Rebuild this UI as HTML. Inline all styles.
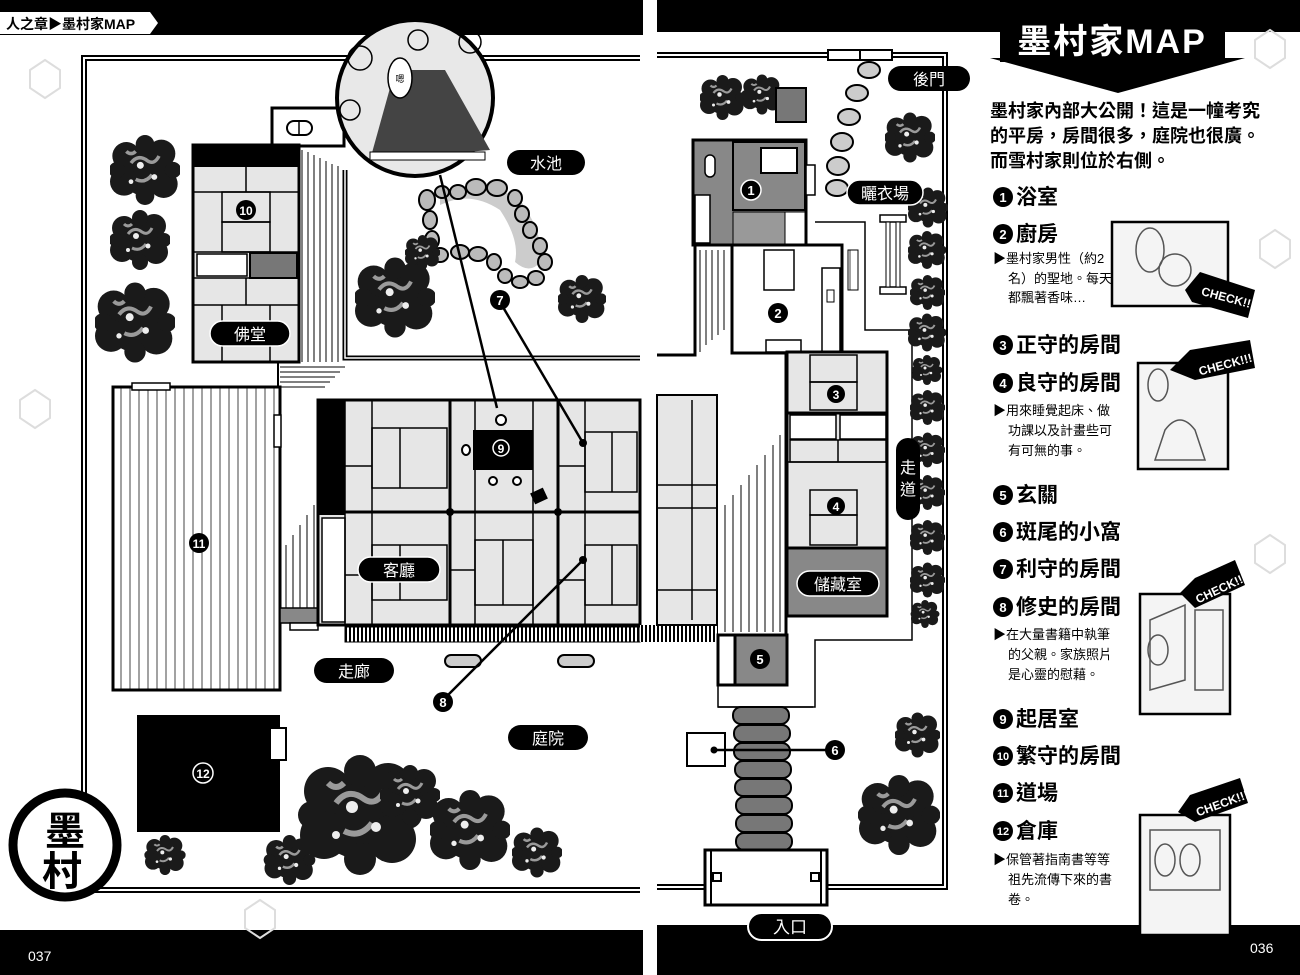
<!DOCTYPE html>
<html><head><meta charset="utf-8"><style>
html,body{margin:0;padding:0;background:#fff}
svg{display:block}
text{font-family:"Liberation Sans","Noto Sans CJK TC",sans-serif}
</style></head><body>
<svg width="1300" height="975" viewBox="0 0 1300 975" xmlns="http://www.w3.org/2000/svg">
<defs>
<symbol id="bush" viewBox="-30 -30 60 60">
<g fill="#1a1a1a">
<circle cx="0" cy="0" r="22"/><circle cx="-16" cy="-12" r="12"/><circle cx="14" cy="-14" r="12"/><circle cx="-18" cy="10" r="12"/><circle cx="16" cy="12" r="12"/><circle cx="0" cy="-22" r="8"/><circle cx="0" cy="22" r="8"/><circle cx="-24" cy="0" r="7"/><circle cx="24" cy="0" r="7"/>
</g>
<g fill="none" stroke="#9a9a9a" stroke-width="3">
<path d="M-12 -6 q6 -8 14 -2 q6 4 10 -4"/><path d="M-8 8 q8 4 14 -4"/><path d="M-16 -16 q4 4 8 0"/>
</g>
<g fill="#eee"><circle cx="-4" cy="-4" r="3"/><circle cx="8" cy="6" r="2.5"/><circle cx="-12" cy="10" r="2"/></g>
</symbol>
<pattern id="tat" width="30" height="30" patternUnits="userSpaceOnUse"><rect width="30" height="30" fill="#e6e6e6"/></pattern>
<pattern id="vl" width="9" height="10" patternUnits="userSpaceOnUse"><rect width="9" height="10" fill="#fff"/><line x1="4" y1="0" x2="4" y2="10" stroke="#444" stroke-width="1"/></pattern>
<pattern id="hatch" width="4" height="10" patternUnits="userSpaceOnUse"><rect width="4" height="10" fill="#fff"/><line x1="2" y1="0" x2="2" y2="10" stroke="#000" stroke-width="2"/></pattern>
</defs>

<!-- top & bottom bands -->
<rect x="0" y="0" width="643" height="35" fill="#000"/>
<rect x="657" y="0" width="643" height="32" fill="#000"/>
<rect x="0" y="930" width="643" height="45" fill="#000"/>
<rect x="657" y="925" width="643" height="50" fill="#000"/>
<path d="M0 12 H150 L158 23 L150 34 H0 Z" fill="#fff"/>
<text x="6" y="29" font-size="14" font-weight="bold" fill="#000">人之章▶墨村家MAP</text>
<text x="28" y="961" font-size="14" fill="#fff" font-family="Liberation Serif">037</text>
<text x="1250" y="953" font-size="14" fill="#fff" font-family="Liberation Serif">036</text>

<!-- faint bg decoration -->
<g fill="none" stroke="#ddd" stroke-width="2">
<polygon points="30,70 45,60 60,70 60,88 45,98 30,88"/>
<polygon points="20,400 35,390 50,400 50,418 35,428 20,418"/>
<polygon points="245,910 260,900 275,910 275,928 260,938 245,928"/>
<polygon points="1255,40 1270,30 1285,40 1285,58 1270,68 1255,58"/>
<polygon points="1255,545 1270,535 1285,545 1285,563 1270,573 1255,563"/>
<polygon points="1260,240 1275,230 1290,240 1290,258 1275,268 1260,258"/>
</g>

<!-- ================= LEFT PAGE ================= -->
<path d="M640 58 H84 V890 H640" fill="none" stroke="#000" stroke-width="6"/>
<path d="M640 58 H84 V890 H640" fill="none" stroke="#fff" stroke-width="2"/>
<!-- garden rectangle -->
<path d="M345 170 V358 H640" fill="none" stroke="#000" stroke-width="5"/>
<path d="M345 170 V358 H640" fill="none" stroke="#fff" stroke-width="1.5"/>

<!-- corridor above butsudo -->
<rect x="272" y="108" width="72" height="38" fill="#fff" stroke="#000" stroke-width="3"/>
<rect x="287" y="121" width="25" height="14" rx="7" fill="#fff" stroke="#000" stroke-width="2"/>
<line x1="299" y1="121" x2="299" y2="135" stroke="#000" stroke-width="1.5"/>
<!-- engawa lines -->
<g stroke="#000" stroke-width="1">
<line x1="302" y1="150" x2="302" y2="362"/><line x1="308" y1="152" x2="308" y2="362"/><line x1="314" y1="155" x2="314" y2="362"/><line x1="320" y1="158" x2="320" y2="362"/><line x1="326" y1="161" x2="326" y2="362"/><line x1="332" y1="164" x2="332" y2="362"/><line x1="338" y1="166" x2="338" y2="362"/>
<line x1="280" y1="367" x2="345" y2="367"/><line x1="280" y1="372" x2="340" y2="372"/><line x1="280" y1="377" x2="335" y2="377"/><line x1="280" y1="382" x2="330" y2="382"/><line x1="280" y1="387" x2="325" y2="387"/>
</g>
<!-- butsudo building -->
<rect x="193" y="145" width="106" height="217" fill="#e6e6e6" stroke="#000" stroke-width="3"/>
<rect x="193" y="145" width="106" height="22" fill="#000"/>
<g stroke="#000" stroke-width="1.5" fill="none">
<line x1="193" y1="192" x2="299" y2="192"/><line x1="246" y1="167" x2="246" y2="192"/>
<rect x="222" y="192" width="48" height="30"/><rect x="222" y="222" width="48" height="30"/>
<line x1="193" y1="252" x2="299" y2="252"/><line x1="193" y1="278" x2="299" y2="278"/>
<line x1="193" y1="305" x2="299" y2="305"/><line x1="246" y1="278" x2="246" y2="305"/>
<line x1="222" y1="305" x2="222" y2="362"/><line x1="270" y1="305" x2="270" y2="362"/>
</g>
<rect x="197" y="254" width="50" height="22" fill="#fff" stroke="#000" stroke-width="1.5"/>
<rect x="250" y="253" width="47" height="25" fill="#777" stroke="#000" stroke-width="2"/>
<circle cx="246" cy="210" r="10" fill="#000"/><text x="246" y="215" font-size="12" fill="#fff" text-anchor="middle" font-weight="bold">10</text>
<rect x="210" y="321" width="80" height="25" rx="12.5" fill="#000" stroke="#fff" stroke-width="1.5"/>
<text x="250" y="340" font-size="16" fill="#fff" text-anchor="middle">佛堂</text>
<line x1="278" y1="362" x2="278" y2="388" stroke="#000" stroke-width="2"/>

<!-- dojo -->
<rect x="113" y="387" width="167" height="303" fill="url(#vl)" stroke="#000" stroke-width="3"/>
<rect x="132" y="383" width="38" height="7" fill="#fff" stroke="#000" stroke-width="1.5"/>
<rect x="274" y="415" width="7" height="32" fill="#fff" stroke="#000" stroke-width="1.5"/>
<circle cx="199" cy="543" r="10" fill="#000"/><text x="199" y="548" font-size="12" fill="#fff" text-anchor="middle" font-weight="bold">11</text>
<!-- stairs -->
<g stroke="#000" stroke-width="1"><line x1="286" y1="545" x2="286" y2="608"/><line x1="293" y1="535" x2="293" y2="608"/><line x1="300" y1="525" x2="300" y2="608"/><line x1="307" y1="515" x2="307" y2="608"/><line x1="314" y1="505" x2="314" y2="608"/></g>
<rect x="280" y="608" width="40" height="15" fill="#888" stroke="#000" stroke-width="1.5"/>
<rect x="290" y="623" width="28" height="7" fill="#fff" stroke="#000" stroke-width="1.5"/>

<!-- main house -->
<rect x="318" y="400" width="322" height="225" fill="#e6e6e6" stroke="#000" stroke-width="3"/>
<rect x="318" y="400" width="27" height="115" fill="#000"/>
<rect x="322" y="518" width="23" height="104" fill="#fff" stroke="#000" stroke-width="1.5"/>
<g stroke="#000" stroke-width="1.5" fill="none">
<line x1="345" y1="400" x2="345" y2="625"/>
<line x1="372" y1="400" x2="372" y2="625"/>
<rect x="372" y="428" width="75" height="60"/><line x1="400" y1="428" x2="400" y2="488"/>
<line x1="345" y1="466" x2="372" y2="466"/>
<rect x="372" y="545" width="75" height="55"/><line x1="400" y1="545" x2="400" y2="600"/>
<line x1="345" y1="575" x2="372" y2="575"/>
<line x1="475" y1="400" x2="475" y2="625"/><line x1="533" y1="400" x2="533" y2="625"/>
<rect x="475" y="540" width="58" height="65"/><line x1="503" y1="540" x2="503" y2="605"/>
<line x1="450" y1="570" x2="475" y2="570"/>
<line x1="585" y1="400" x2="585" y2="625"/>
<rect x="585" y="432" width="52" height="60"/><line x1="612" y1="432" x2="612" y2="492"/>
<rect x="585" y="545" width="52" height="60"/><line x1="612" y1="545" x2="612" y2="605"/>
<line x1="558" y1="466" x2="585" y2="466"/><line x1="558" y1="580" x2="585" y2="580"/>
</g>
<g stroke="#000" stroke-width="3"><line x1="318" y1="512" x2="640" y2="512"/><line x1="450" y1="400" x2="450" y2="625"/><line x1="558" y1="400" x2="558" y2="625"/></g>
<circle cx="450" cy="512" r="4" fill="#000"/><circle cx="558" cy="512" r="4" fill="#000"/>
<rect x="473" y="430" width="60" height="40" fill="#000"/>
<circle cx="501" cy="448" r="8" fill="#000" stroke="#fff" stroke-width="1.5"/><text x="501" y="453" font-size="12" fill="#fff" text-anchor="middle" font-weight="bold">9</text>
<circle cx="501" cy="420" r="5" fill="#fff" stroke="#000" stroke-width="2"/>
<ellipse cx="466" cy="450" rx="4" ry="5" fill="#fff" stroke="#000" stroke-width="2"/>
<circle cx="493" cy="481" r="4" fill="#fff" stroke="#000" stroke-width="2"/><circle cx="517" cy="481" r="4" fill="#fff" stroke="#000" stroke-width="2"/>
<rect x="532" y="490" width="14" height="12" fill="#000" transform="rotate(-25 539 496)"/>
<rect x="358" y="557" width="82" height="25" rx="12.5" fill="#000" stroke="#fff" stroke-width="1.5"/>
<text x="399" y="576" font-size="16" fill="#fff" text-anchor="middle">客廳</text>
<rect x="345" y="627" width="295" height="15" fill="url(#hatch)" stroke="#000" stroke-width="1"/>
<rect x="445" y="655" width="36" height="12" rx="6" fill="#ccc" stroke="#000" stroke-width="2"/>
<rect x="558" y="655" width="36" height="12" rx="6" fill="#ccc" stroke="#000" stroke-width="2"/>
<rect x="314" y="658" width="80" height="25" rx="12.5" fill="#000"/>
<text x="354" y="677" font-size="16" fill="#fff" text-anchor="middle">走廊</text>
<rect x="508" y="725" width="80" height="25" rx="12.5" fill="#000"/>
<text x="548" y="744" font-size="16" fill="#fff" text-anchor="middle">庭院</text>

<!-- pond -->
<path d="M440 205 Q470 190 500 210 Q520 240 515 262 Q530 275 540 262 Q545 235 520 200 Q480 175 440 195 Z" fill="#ccc"/>
<g fill="#bbb" stroke="#000" stroke-width="2">
<ellipse cx="427" cy="200" rx="8" ry="10"/><ellipse cx="430" cy="220" rx="7" ry="9"/><ellipse cx="432" cy="240" rx="7" ry="9"/><ellipse cx="440" cy="255" rx="8" ry="7"/>
<ellipse cx="460" cy="252" rx="9" ry="7"/><ellipse cx="478" cy="254" rx="9" ry="7"/><ellipse cx="494" cy="262" rx="7" ry="8"/><ellipse cx="505" cy="276" rx="7" ry="7"/><ellipse cx="520" cy="282" rx="8" ry="6"/><ellipse cx="536" cy="278" rx="8" ry="7"/><ellipse cx="545" cy="262" rx="7" ry="8"/><ellipse cx="540" cy="246" rx="7" ry="8"/><ellipse cx="530" cy="230" rx="7" ry="8"/><ellipse cx="522" cy="214" rx="7" ry="8"/><ellipse cx="515" cy="198" rx="7" ry="8"/><ellipse cx="497" cy="188" rx="10" ry="8"/><ellipse cx="476" cy="187" rx="10" ry="8"/><ellipse cx="458" cy="192" rx="8" ry="7"/><ellipse cx="442" cy="192" rx="7" ry="6"/>
</g>
<rect x="507" y="150" width="78" height="25" rx="12.5" fill="#000"/>
<text x="546" y="169" font-size="16" fill="#fff" text-anchor="middle">水池</text>

<!-- bushes left -->
<use href="#bush" x="110" y="135" width="70" height="70"/>
<use href="#bush" x="110" y="210" width="60" height="60"/>
<use href="#bush" x="95" y="280" width="80" height="85"/>
<use href="#bush" x="355" y="255" width="80" height="85"/>
<use href="#bush" x="558" y="275" width="48" height="48"/>
<use href="#bush" x="405" y="235" width="35" height="35"/>
<use href="#bush" x="140" y="835" width="50" height="40"/>
<use href="#bush" x="295" y="755" width="130" height="120"/>
<use href="#bush" x="380" y="765" width="60" height="60"/>
<use href="#bush" x="430" y="780" width="80" height="100"/>
<use href="#bush" x="262" y="835" width="55" height="50"/>
<use href="#bush" x="512" y="825" width="50" height="55"/>

<!-- storehouse 12 -->
<rect x="137" y="715" width="143" height="117" fill="#000"/>
<rect x="270" y="728" width="16" height="32" fill="#fff" stroke="#000" stroke-width="2"/>
<circle cx="203" cy="773" r="10" fill="#000" stroke="#fff" stroke-width="1.5"/><text x="203" y="778" font-size="12" fill="#fff" text-anchor="middle" font-weight="bold">12</text>

<!-- leader lines -->
<g stroke="#000" stroke-width="2.5">
<line x1="440" y1="175" x2="497" y2="408"/>
<line x1="500" y1="302" x2="583" y2="443"/>
<line x1="443" y1="700" x2="583" y2="560"/>
</g>
<circle cx="583" cy="443" r="4" fill="#000"/><circle cx="583" cy="560" r="4" fill="#000"/>
<circle cx="500" cy="300" r="10" fill="#000"/><text x="500" y="305" font-size="13" fill="#fff" text-anchor="middle" font-weight="bold">7</text>
<circle cx="443" cy="702" r="10" fill="#000"/><text x="443" y="707" font-size="13" fill="#fff" text-anchor="middle" font-weight="bold">8</text>

<!-- inset circle -->
<circle cx="415" cy="98" r="78" fill="#e8e8e8" stroke="#000" stroke-width="4"/>
<path d="M370 160 L395 70 L445 70 L490 150 Z" fill="#444"/>
<rect x="370" y="152" width="115" height="8" fill="#fff" stroke="#000"/>
<ellipse cx="400" cy="78" rx="12" ry="20" fill="#fff" stroke="#000" stroke-width="1.5"/>
<text x="400" y="82" font-size="9" text-anchor="middle">嗯</text>
<g fill="none" stroke="#000" stroke-width="1.5"><circle cx="360" cy="58" r="12"/><circle cx="418" cy="40" r="10"/><circle cx="470" cy="42" r="11"/><circle cx="350" cy="110" r="10"/></g>

<!-- 墨村 stamp -->
<circle cx="65" cy="845" r="52" fill="#fff" stroke="#000" stroke-width="9"/>
<text x="65" y="845" font-size="40" font-weight="bold" text-anchor="middle" font-family="Noto Serif CJK SC,serif">墨</text>
<text x="62" y="885" font-size="40" font-weight="bold" text-anchor="middle" font-family="Noto Serif CJK SC,serif">村</text>

<!-- ================= RIGHT PAGE ================= -->
<path d="M657 55 H945 V887 H657" fill="none" stroke="#000" stroke-width="6"/>
<path d="M657 55 H945 V887 H657" fill="none" stroke="#fff" stroke-width="2"/>
<rect x="828" y="50" width="32" height="10" fill="#fff" stroke="#000" stroke-width="2"/>
<rect x="860" y="50" width="32" height="10" fill="#fff" stroke="#000" stroke-width="2"/>
<rect x="888" y="66" width="82" height="25" rx="12.5" fill="#000"/>
<text x="929" y="85" font-size="16" fill="#fff" text-anchor="middle">後門</text>
<g fill="#ccc" stroke="#000" stroke-width="2">
<ellipse cx="869" cy="70" rx="11" ry="8"/><ellipse cx="857" cy="93" rx="11" ry="8"/><ellipse cx="849" cy="117" rx="11" ry="8"/><ellipse cx="842" cy="142" rx="11" ry="9"/><ellipse cx="838" cy="166" rx="11" ry="9"/><ellipse cx="837" cy="188" rx="11" ry="8"/>
</g>
<use href="#bush" x="700" y="75" width="45" height="45"/>
<use href="#bush" x="742" y="72" width="40" height="45"/>
<rect x="776" y="88" width="30" height="34" fill="#777" stroke="#000" stroke-width="2"/>
<use href="#bush" x="885" y="110" width="50" height="55"/>

<!-- building 1 -->
<rect x="693" y="140" width="113" height="105" fill="#888" stroke="#000" stroke-width="3"/>
<rect x="733" y="142" width="72" height="68" fill="#888" stroke="#000" stroke-width="2"/>
<rect x="761" y="148" width="36" height="25" fill="#fff" stroke="#000" stroke-width="2"/>
<circle cx="751" cy="190" r="10" fill="#000" stroke="#fff" stroke-width="1.5"/><text x="751" y="195" font-size="13" fill="#fff" text-anchor="middle" font-weight="bold">1</text>
<rect x="705" y="155" width="10" height="22" rx="5" fill="#fff" stroke="#000" stroke-width="1.5"/>
<rect x="695" y="195" width="15" height="48" fill="#fff" stroke="#000" stroke-width="1.5"/>
<rect x="733" y="212" width="52" height="32" fill="#999" stroke="#000" stroke-width="1"/>
<rect x="785" y="212" width="20" height="32" fill="#fff" stroke="#000" stroke-width="1"/>
<rect x="806" y="165" width="9" height="30" fill="#fff" stroke="#000" stroke-width="1.5"/>
<!-- kitchen -->
<rect x="732" y="245" width="110" height="108" fill="#fff" stroke="#000" stroke-width="3"/>
<rect x="764" y="250" width="30" height="40" fill="#fff" stroke="#000" stroke-width="1.5"/>
<rect x="766" y="340" width="35" height="12" fill="#fff" stroke="#000" stroke-width="1.5"/>
<rect x="822" y="268" width="18" height="84" fill="#fff" stroke="#000" stroke-width="1.5"/>
<rect x="827" y="290" width="7" height="12" fill="#fff" stroke="#000"/>
<circle cx="778" cy="313" r="10" fill="#000"/><text x="778" y="318" font-size="13" fill="#fff" text-anchor="middle" font-weight="bold">2</text>
<rect x="848" y="250" width="10" height="40" fill="url(#vl)" stroke="#000" stroke-width="1"/>
<!-- engawa stripes -->
<g stroke="#000" stroke-width="1"><line x1="700" y1="250" x2="700" y2="352"/><line x1="706" y1="250" x2="706" y2="345"/><line x1="712" y1="250" x2="712" y2="340"/><line x1="718" y1="250" x2="718" y2="335"/><line x1="724" y1="250" x2="724" y2="330"/></g>
<path d="M657 355 H695 V245" fill="none" stroke="#000" stroke-width="3"/>
<!-- inner walkway line -->
<path d="M815 222 H865 V330 H912 V640 H815 V707 H718" fill="none" stroke="#000" stroke-width="1.5"/>
<!-- drying rack -->
<rect x="880" y="215" width="26" height="7" fill="#fff" stroke="#000" stroke-width="1.5"/>
<rect x="880" y="287" width="26" height="7" fill="#fff" stroke="#000" stroke-width="1.5"/>
<rect x="886" y="222" width="4" height="65" fill="#fff" stroke="#000"/><rect x="896" y="222" width="4" height="65" fill="#fff" stroke="#000"/>
<!-- bushes column -->
<use href="#bush" x="908" y="185" width="40" height="45"/>
<use href="#bush" x="908" y="230" width="38" height="40"/>
<use href="#bush" x="910" y="275" width="35" height="35"/>
<use href="#bush" x="908" y="310" width="38" height="45"/>
<use href="#bush" x="912" y="355" width="30" height="30"/>
<use href="#bush" x="910" y="390" width="35" height="35"/>
<use href="#bush" x="910" y="430" width="35" height="40"/>
<use href="#bush" x="910" y="475" width="35" height="35"/>
<use href="#bush" x="910" y="520" width="35" height="35"/>
<use href="#bush" x="910" y="560" width="35" height="40"/>
<use href="#bush" x="910" y="600" width="30" height="28"/>
<rect x="847" y="180" width="76" height="25" rx="12.5" fill="#000" stroke="#fff" stroke-width="1.5"/>
<text x="885" y="199" font-size="16" fill="#fff" text-anchor="middle">曬衣場</text>
<rect x="896" y="438" width="24" height="82" rx="12" fill="#000"/>
<text x="908" y="473" font-size="16" fill="#fff" text-anchor="middle">走</text>
<text x="908" y="495" font-size="16" fill="#fff" text-anchor="middle">道</text>
<!-- rooms 3/4 -->
<rect x="787" y="352" width="100" height="196" fill="#e6e6e6" stroke="#000" stroke-width="3"/>
<g stroke="#000" stroke-width="1.5" fill="none">
<rect x="810" y="355" width="47" height="27"/><rect x="810" y="382" width="47" height="28"/>
<rect x="790" y="440" width="96" height="22"/><line x1="838" y1="440" x2="838" y2="462"/>
<rect x="810" y="490" width="47" height="25"/><rect x="810" y="515" width="47" height="30"/><line x1="787" y1="462" x2="887" y2="462"/>
</g>
<line x1="787" y1="413" x2="887" y2="413" stroke="#000" stroke-width="3"/>
<rect x="790" y="415" width="46" height="24" fill="#fff" stroke="#000" stroke-width="1.5"/><rect x="840" y="415" width="46" height="24" fill="#fff" stroke="#000" stroke-width="1.5"/>
<circle cx="836" cy="394" r="9" fill="#000"/><text x="836" y="399" font-size="12" fill="#fff" text-anchor="middle" font-weight="bold">3</text>
<circle cx="836" cy="506" r="9" fill="#000"/><text x="836" y="511" font-size="12" fill="#fff" text-anchor="middle" font-weight="bold">4</text>
<rect x="787" y="548" width="100" height="68" fill="#888" stroke="#000" stroke-width="3"/>
<rect x="797" y="571" width="82" height="25" rx="12.5" fill="#000" stroke="#fff" stroke-width="1.5"/>
<text x="838" y="590" font-size="16" fill="#fff" text-anchor="middle">儲藏室</text>
<!-- stripes left of rooms -->
<g stroke="#000" stroke-width="1"><line x1="725" y1="505" x2="725" y2="632"/><line x1="733" y1="495" x2="733" y2="632"/><line x1="741" y1="485" x2="741" y2="632"/><line x1="749" y1="475" x2="749" y2="632"/><line x1="757" y1="465" x2="757" y2="632"/><line x1="765" y1="455" x2="765" y2="632"/><line x1="773" y1="445" x2="773" y2="632"/><line x1="780" y1="435" x2="780" y2="632"/></g>
<line x1="786" y1="352" x2="786" y2="685" stroke="#000" stroke-width="3"/>
<rect x="640" y="625" width="78" height="17" fill="url(#hatch)"/>
<rect x="657" y="395" width="60" height="230" fill="#e6e6e6" stroke="#000" stroke-width="2"/>
<g stroke="#000" stroke-width="1.5"><line x1="657" y1="485" x2="717" y2="485"/><line x1="657" y1="508" x2="717" y2="508"/><line x1="657" y1="590" x2="717" y2="590"/><line x1="692" y1="400" x2="692" y2="620"/></g>
<!-- entrance 5 -->
<rect x="718" y="635" width="17" height="50" fill="#fff" stroke="#000" stroke-width="3"/>
<rect x="735" y="635" width="52" height="50" fill="#888" stroke="#000" stroke-width="3"/>
<circle cx="760" cy="659" r="10" fill="#000"/><text x="760" y="664" font-size="13" fill="#fff" text-anchor="middle" font-weight="bold">5</text>
<path d="M718 685 V707 H813" fill="none" stroke="#000" stroke-width="1.5"/>
<!-- stepping path -->
<g fill="#777" stroke="#000" stroke-width="2">
<rect x="733" y="707" width="56" height="17" rx="8"/><rect x="734" y="725" width="56" height="17" rx="8"/><rect x="734" y="743" width="56" height="17" rx="8"/><rect x="735" y="761" width="56" height="17" rx="8"/><rect x="735" y="779" width="56" height="17" rx="8"/><rect x="736" y="797" width="56" height="17" rx="8"/><rect x="736" y="815" width="56" height="17" rx="8"/><rect x="736" y="833" width="56" height="17" rx="8"/>
</g>
<rect x="687" y="733" width="38" height="33" fill="#fff" stroke="#000" stroke-width="2"/>
<line x1="714" y1="750" x2="835" y2="750" stroke="#000" stroke-width="2.5"/>
<circle cx="714" cy="750" r="3.5" fill="#000"/>
<circle cx="835" cy="750" r="10" fill="#000"/><text x="835" y="755" font-size="13" fill="#fff" text-anchor="middle" font-weight="bold">6</text>
<use href="#bush" x="895" y="700" width="45" height="70"/>
<use href="#bush" x="858" y="775" width="82" height="80"/>
<!-- gate -->
<rect x="705" y="850" width="122" height="55" fill="#fff" stroke="#000" stroke-width="3"/>
<line x1="711" y1="850" x2="711" y2="905" stroke="#000" stroke-width="2"/><line x1="821" y1="850" x2="821" y2="905" stroke="#000" stroke-width="2"/>
<rect x="713" y="873" width="8" height="8" fill="#fff" stroke="#000" stroke-width="2"/><rect x="811" y="873" width="8" height="8" fill="#fff" stroke="#000" stroke-width="2"/>
<rect x="748" y="913" width="84" height="27" rx="13.5" fill="#000" stroke="#fff" stroke-width="2"/>
<text x="790" y="933" font-size="17" fill="#fff" text-anchor="middle">入口</text>

<!-- ============ RIGHT TEXT COLUMN ============ -->
<path d="M990 58 H1245 L1118 93 Z" fill="#000"/>
<rect x="1000" y="18" width="225" height="44" fill="#000"/>
<text x="1112" y="53" font-size="34" font-weight="bold" fill="#fff" text-anchor="middle" letter-spacing="2">墨村家MAP</text>
<g font-size="18" font-weight="bold" fill="#000">
<text x="990" y="117">墨村家內部大公開！這是一幢考究</text>
<text x="990" y="142">的平房，房間很多，庭院也很廣。</text>
<text x="990" y="167">而雪村家則位於右側。</text>
</g>
<g font-size="21" font-weight="bold" fill="#000">
<text x="1016" y="204">浴室</text>
<text x="1016" y="241">廚房</text>
<text x="1016" y="352">正守的房間</text>
<text x="1016" y="390">良守的房間</text>
<text x="1016" y="502">玄關</text>
<text x="1016" y="539">斑尾的小窩</text>
<text x="1016" y="576">利守的房間</text>
<text x="1016" y="614">修史的房間</text>
<text x="1016" y="726">起居室</text>
<text x="1016" y="763">繁守的房間</text>
<text x="1016" y="800">道場</text>
<text x="1016" y="838">倉庫</text>
</g>
<g fill="#000">
<circle cx="1003" cy="197" r="10"/><circle cx="1003" cy="234" r="10"/><circle cx="1003" cy="345" r="10"/><circle cx="1003" cy="383" r="10"/><circle cx="1003" cy="495" r="10"/><circle cx="1003" cy="532" r="10"/><circle cx="1003" cy="569" r="10"/><circle cx="1003" cy="607" r="10"/><circle cx="1003" cy="719" r="10"/><circle cx="1003" cy="756" r="10"/><circle cx="1003" cy="793" r="10"/><circle cx="1003" cy="831" r="10"/>
</g>
<g font-size="13" font-weight="bold" fill="#fff" text-anchor="middle">
<text x="1003" y="202">1</text><text x="1003" y="239">2</text><text x="1003" y="350">3</text><text x="1003" y="388">4</text><text x="1003" y="500">5</text><text x="1003" y="537">6</text><text x="1003" y="574">7</text><text x="1003" y="612">8</text><text x="1003" y="724">9</text><text x="1003" y="760" font-size="11">10</text><text x="1003" y="797" font-size="11">11</text><text x="1003" y="835" font-size="11">12</text>
</g>
<g font-size="13" fill="#000">
<text x="993" y="263">▶墨村家男性（約2</text>
<text x="1008" y="283">名）的聖地。每天</text>
<text x="1008" y="302">都飄著香味…</text>
<text x="993" y="415">▶用來睡覺起床、做</text>
<text x="1008" y="435">功課以及計畫些可</text>
<text x="1008" y="455">有可無的事。</text>
<text x="993" y="639">▶在大量書籍中執筆</text>
<text x="1008" y="659">的父親。家族照片</text>
<text x="1008" y="679">是心靈的慰藉。</text>
<text x="993" y="864">▶保管著指南書等等</text>
<text x="1008" y="884">祖先流傳下來的書</text>
<text x="1008" y="904">卷。</text>
</g>
<!-- manga panels -->
<g fill="#f4f4f4" stroke="#000" stroke-width="2.5">
<rect x="1112" y="222" width="116" height="84"/>
<rect x="1138" y="363" width="90" height="106"/>
<rect x="1140" y="594" width="90" height="120"/>
<rect x="1140" y="815" width="90" height="120"/>
</g>
<g fill="none" stroke="#555" stroke-width="1.5">
<ellipse cx="1150" cy="250" rx="14" ry="22"/><circle cx="1175" cy="270" r="16"/>
<ellipse cx="1158" cy="385" rx="10" ry="16"/><path d="M1165 430 q15 -20 30 0 l10 30 h-50 z"/>
<path d="M1150 620 L1185 605 L1185 680 L1150 690 Z"/><rect x="1195" y="610" width="28" height="80"/><ellipse cx="1158" cy="650" rx="10" ry="15"/>
<rect x="1150" y="830" width="70" height="60"/><ellipse cx="1165" cy="860" rx="10" ry="16"/><ellipse cx="1190" cy="860" rx="10" ry="16"/>
</g>
<g fill="#000">
<path d="M1185 290 L1200 272 L1255 290 L1248 318 L1192 302 Z"/>
<path d="M1170 370 L1190 350 L1250 340 L1255 368 L1195 380 Z"/>
<path d="M1180 593 L1195 578 L1235 560 L1245 585 L1195 608 Z"/>
<path d="M1178 812 L1190 795 L1240 778 L1248 803 L1195 822 Z"/>
</g>
<g font-size="12" font-weight="bold" fill="#fff">
<text x="1200" y="300" transform="rotate(15 1220 300)">CHECK!!!</text>
<text x="1198" y="370" transform="rotate(-15 1220 365)">CHECK!!!</text>
<text x="1193" y="595" transform="rotate(-25 1215 588)">CHECK!!!</text>
<text x="1195" y="810" transform="rotate(-20 1215 805)">CHECK!!!</text>
</g>
</svg>
</body></html>
